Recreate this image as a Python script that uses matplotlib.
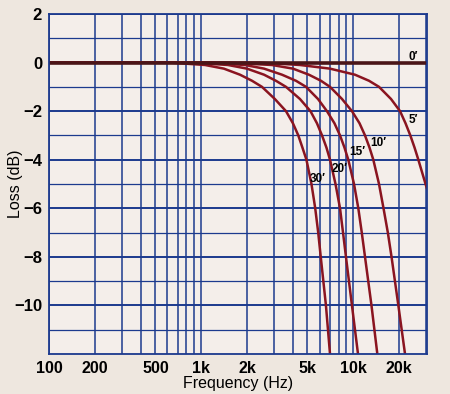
import numpy as np
import matplotlib
matplotlib.use('Agg')
import matplotlib.pyplot as plt
from matplotlib.ticker import FixedLocator, NullFormatter

# -------------------------------------------------------
# Data (frequency in Hz, loss in dB)
freq_30 = [100, 620, 1060, 1410, 1800, 2160, 2510, 3050, 3610, 4010, 4350,
           4630, 4920, 5310, 5620, 5880, 6110, 6610, 7030]
loss_30 = [0, 0, -0.1, -0.25, -0.5, -0.75, -1, -1.5, -2, -2.5, -3,
           -3.5, -4, -5, -6, -7, -8, -10, -12]

freq_20 = [100, 840, 1500, 2000, 2590, 3100, 3610, 4460, 5230, 5770, 6230,
           6660, 7030, 7640, 8180, 8560, 8950, 9800, 10740]
loss_20 = [0, 0, -0.1, -0.25, -0.5, -0.75, -1, -1.5, -2, -2.5, -3,
           -3.5, -4, -5, -6, -7, -8, -10, -12]

freq_15 = [100, 1060, 1940, 2590, 3400, 4200, 4890, 5860, 6710, 7520, 8180,
           8750, 9270, 10110, 10790, 11370, 11940, 13170, 14390]
loss_15 = [0, 0, -0.1, -0.25, -0.5, -0.75, -1, -1.5, -2, -2.5, -3,
           -3.5, -4, -5, -6, -7, -8, -10, -12]

freq_10 = [100, 1430, 2920, 4010, 5110, 6130, 7030, 8430, 9800, 10990, 11940,
           12780, 13540, 14760, 15800, 16870, 17840, 19780, 21880]
loss_10 = [0, 0, -0.1, -0.25, -0.5, -0.75, -1, -1.5, -2, -2.5, -3,
           -3.5, -4, -5, -6, -7, -8, -10, -12]

freq_5 = [100, 2430, 4460, 7030, 10260, 12690, 14760, 17700, 20290, 22050,
          23710, 25270, 26770, 29850, 30540]
loss_5 = [0, 0, -0.1, -0.25, -0.5, -0.75, -1, -1.5, -2, -2.5,
          -3, -3.5, -4, -5, -5.2]

freq_0 = [100, 30540]
loss_0 = [0, 0]

curve_labels = ["0′", "5′", "10′", "15′", "20′", "30′"]
label_freq = [24700, 24700, 14600, 10600, 8170, 5860]
label_loss = [0.22, -2.35, -3.3, -3.7, -4.4, -4.8]

x_ticks = [100, 200, 500, 1000, 2000, 5000, 10000, 20000]
x_tick_labels = ["100", "200", "500", "1k", "2k", "5k", "10k", "20k"]
y_ticks = [2, 0, -2, -4, -6, -8, -10]
y_tick_labels = ["2", "0", "\u22122", "\u22124", "\u22126", "\u22128", "\u221210"]

# -------------------------------------------------------
paper_out = '#eee7df'
paper = '#f4eeea'
blue = '#1c3a8e'
red = '#8a1420'

plt.rcParams['font.family'] = ['Liberation Sans', 'DejaVu Sans']

fig = plt.figure(figsize=(4.5, 3.94), dpi=100, facecolor=paper_out)
ax = fig.add_axes([0.109, 0.1015, 0.84, 0.863], facecolor=paper)

ax.set_xscale('log')
ax.set_xlim(100, 30540)
ax.set_ylim(-12, 2)

# Grid: every 1-9 multiple on x, every 1 dB on y
minor_x = [m * 10 ** e for e in range(2, 5) for m in range(1, 10) if m * 10 ** e <= 30000]
ax.xaxis.set_major_locator(FixedLocator(x_ticks))
ax.xaxis.set_minor_locator(FixedLocator(minor_x))
ax.xaxis.set_minor_formatter(NullFormatter())
ax.set_xticklabels(x_tick_labels)
ax.set_yticks(y_ticks)
ax.set_yticklabels(y_tick_labels)
ax.yaxis.set_minor_locator(FixedLocator(list(range(-12, 3))))

ax.grid(True, which='minor', axis='x', color=blue, lw=1.1)
ax.grid(True, which='major', axis='x', color=blue, lw=1.1)
ax.grid(True, which='minor', axis='y', color=blue, lw=0.9)
ax.grid(True, which='major', axis='y', color=blue, lw=1.4)
ax.set_axisbelow(True)
for s in ax.spines.values():
    s.set_color(blue)
    s.set_linewidth(1.3)

ax.tick_params(which='both', length=0)
ax.tick_params(axis='x', pad=5, labelsize=11.5)
ax.tick_params(axis='y', pad=5, labelsize=12)
for t in ax.get_xticklabels() + ax.get_yticklabels():
    t.set_fontweight('bold')

# Curves
for f, l in [(freq_5, loss_5), (freq_10, loss_10), (freq_15, loss_15),
             (freq_20, loss_20), (freq_30, loss_30)]:
    ax.plot(f, l, color=red, lw=1.8, solid_joinstyle='round')
ax.plot(freq_0, loss_0, color='#4a1518', lw=2.6)

for txt, fx, ly in zip(curve_labels, label_freq, label_loss):
    ax.text(fx, ly, txt, fontsize=8.5, fontweight='bold', ha='center', va='center')

ax.set_xlabel('Frequency (Hz)', fontsize=11.5, labelpad=0)
ax.set_ylabel('Loss (dB)', fontsize=11.5)
ax.yaxis.set_label_coords(-0.068, 0.5)

fig.savefig('out.png', dpi=100, facecolor=paper_out)
